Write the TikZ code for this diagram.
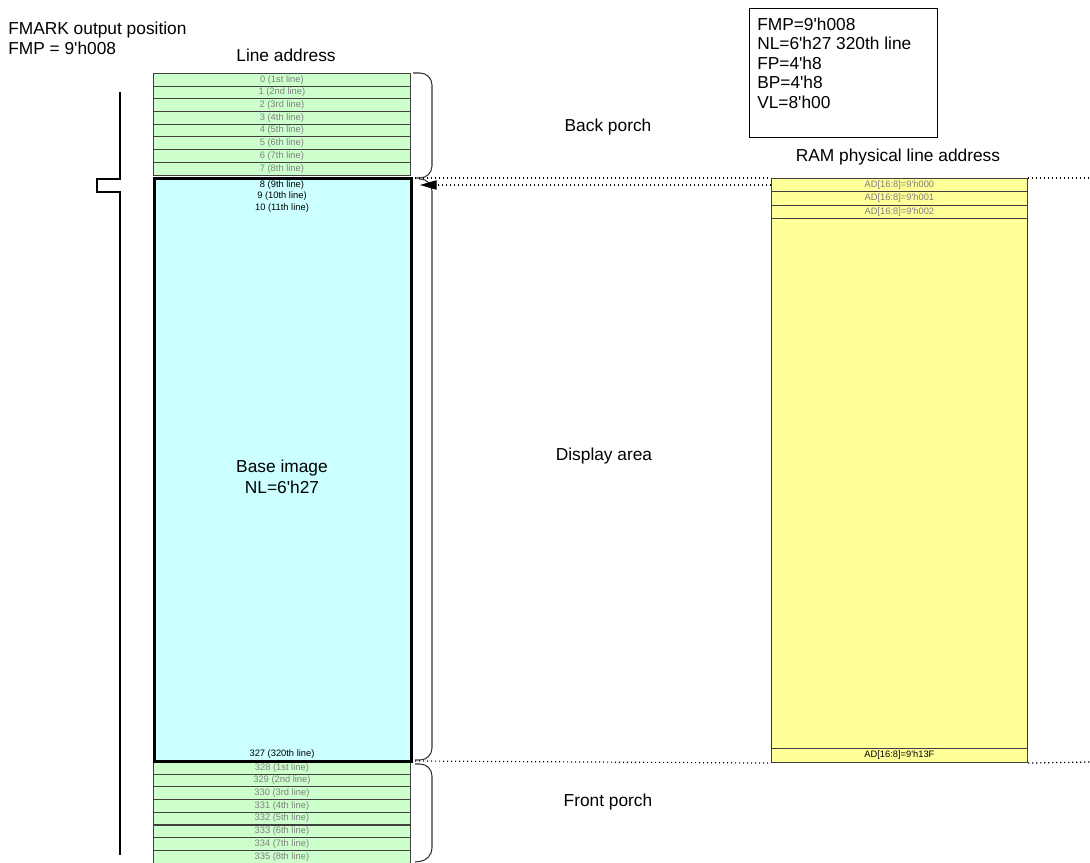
\documentclass[tikz,border=0pt]{standalone}
\usepackage{fontspec}
\setmainfont{Liberation Sans}[Ligatures=TeXOff]
\usetikzlibrary{positioning,arrows.meta}

\definecolor{rowgreen}{HTML}{CCFFCC}
\definecolor{imgblue}{HTML}{CCFFFF}
\definecolor{ramyellow}{HTML}{FFFF99}

\begin{document}
\begin{tikzpicture}[
        x=0.75pt, y=-0.75pt,
        >=Latex,
        big/.style={font=\fontsize{13}{15}\selectfont},
        small/.style={font=\fontsize{7}{8}\selectfont},
        linerow/.style={draw=black!75, line width=0.6pt, minimum width=192.75pt,
            minimum height=9.5pt, inner sep=0pt, anchor=north west, small, text=black!50},
        greenrow/.style={linerow, fill=rowgreen},
        ramrow/.style={linerow, fill=ramyellow, minimum width=192pt, minimum height=10pt},
        paren/.style={draw=black!80, line width=0.8pt, rounded corners=9pt},
        guide/.style={line width=0.9pt, dash pattern=on 0.9pt off 2.1pt}
    ]
      \useasboundingbox (0,0) rectangle (1090,863);

      % titles
      \node[big, anchor=north west, inner sep=0pt, align=left] (fmark) at (8,21.5)
          {FMARK output position\\FMP = 9'h008};
      \node[big, anchor=base] (lineaddr) at (286,62) {Line address};

      % register settings
      \node[draw, line width=0.8pt, anchor=north west, minimum width=141pt,
          minimum height=96.75pt] (regbox) at (749,8) {};
      \node[below right=7pt and 6pt of regbox.north west, inner sep=0pt, align=left,
          font=\fontsize{13}{14.6}\selectfont] (regs)
          {FMP=9'h008\\NL=6'h27 320th line\\FP=4'h8\\BP=4'h8\\VL=8'h00};

      % back porch / front porch lines
      \foreach \ord [count=\i from 0] in {1st,2nd,3rd,4th,5th,6th,7th,8th} {
          \node[greenrow] (top\i) at (153,{73+12.7*\i}) {\i\ (\ord\ line)};
          \pgfmathtruncatemacro\lnum{328+\i}
          \node[greenrow] (bot\i) at (153,{761+12.7*\i}) {\lnum\ (\ord\ line)};
      }

      % base image
      \node[draw, line width=2.2pt, fill=imgblue, anchor=north west, inner sep=0pt,
          minimum width=192.75pt, minimum height=437.25pt] (base) at (153,177) {};
      \node[small] (l8) at (282,185) {8 (9th line)};
      \node[small] (l9) at (282,196.5) {9 (10th line)};
      \node[small] (l10) at (282,208) {10 (11th line)};
      \node[small] (l327) at (282,754) {327 (320th line)};
      \node[font=\fontsize{13}{15.75}\selectfont, align=center] (baselbl) at (282,477)
          {Base image\\NL=6'h27};

      % RAM
      \node[big] (ramlbl) at (898,157) {RAM physical line address};
      \node[draw=black!80, line width=0.8pt, fill=ramyellow, anchor=north west, inner sep=0pt,
          minimum width=192pt, minimum height=438pt] (ram) at (771,178) {};
      \foreach \a [count=\i from 0] in {000,001,002}
          \node[ramrow] (ad\i) at (771,{178+13.3*\i}) {AD[16:8]=9'h\a};
      \node[ramrow, minimum height=10.5pt, text=black] (adlast) at (771,748) {AD[16:8]=9'h13F};

      % brackets
      \draw[paren] (413,73) -- (432,73) -- (432,178) -- (415,178);
      \draw[paren] (419,179) -- (432,179) -- (432,760) -- (415,760);
      \draw[paren] (415,764) -- (432,764) -- (432,860) -- (415,862);
      \node[big] (bporch) at (608,127) {Back porch};
      \node[big] (disp) at (604,456) {Display area};
      \node[big] (fporch) at (608,802) {Front porch};

      % guides
      \coordinate (bptip) at (415,178);
      \coordinate (dptip) at (415,761);
      \coordinate (arrtip) at (420,185);
      \coordinate (rtop) at (1090,178);
      \coordinate (rbot) at (1090,762);
      \draw[guide] (bptip) -- (ram.north west);
      \draw[guide] (ram.north east) -- (rtop);
      \draw[guide] (dptip) -- (ram.south west);
      \draw[guide] (ram.south east) -- (rbot);
      \draw[guide, -{Triangle[length=12.5pt, width=7pt]}] (ram.west |- arrtip) -- (arrtip);

      % FMARK signal
      \draw[line width=1pt] (120,92) -- (120,179) -- (97,179) -- (97,192) -- (120,192) -- (120,855);
    \end{tikzpicture}
\end{document}
